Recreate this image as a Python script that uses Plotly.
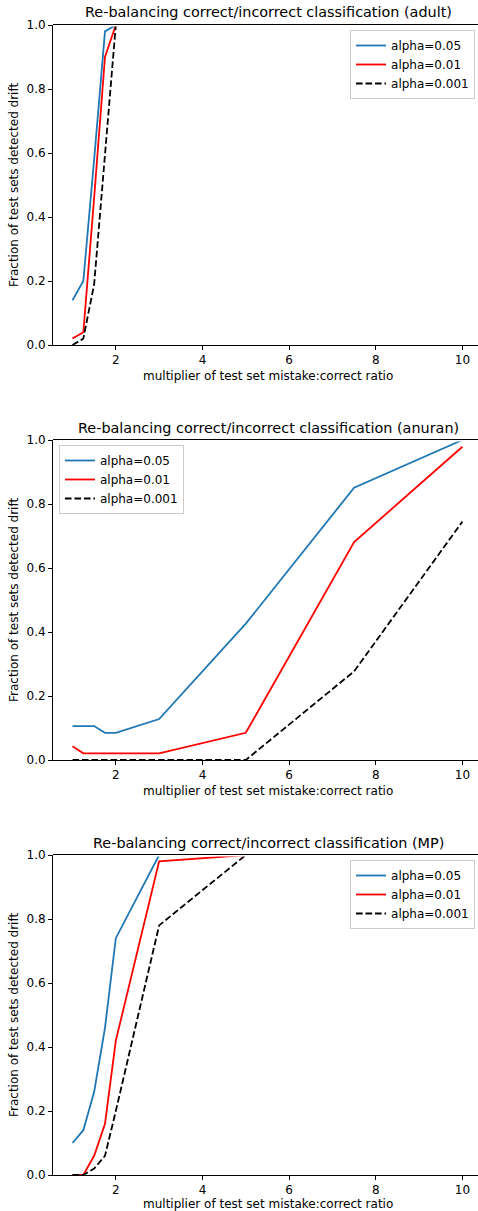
import plotly.graph_objects as go

# ---------------- data ----------------
multipliers = [1, 1.25, 1.5, 1.75, 2, 3, 5, 7.5, 10]

adult_a005 = [0.14, 0.20, 0.58, 0.98, 1.0, 1.0, 1.0, 1.0, 1.0]
adult_a001 = [0.02, 0.04, 0.46, 0.90, 1.0, 1.0, 1.0, 1.0, 1.0]
adult_a0001 = [0.0, 0.02, 0.19, 0.60, 1.0, 1.0, 1.0, 1.0, 1.0]

anuran_a005 = [0.106, 0.106, 0.106, 0.085, 0.085, 0.128, 0.426, 0.851, 1.0]
anuran_a001 = [0.043, 0.021, 0.021, 0.021, 0.021, 0.021, 0.085, 0.681, 0.979]
anuran_a0001 = [0.0, 0.0, 0.0, 0.0, 0.0, 0.0, 0.0, 0.277, 0.745]

mp_a005 = [0.10, 0.14, 0.26, 0.46, 0.74, 1.0, 1.0, 1.0, 1.0]
mp_a001 = [0.0, 0.0, 0.06, 0.16, 0.42, 0.98, 1.0, 1.0, 1.0]
mp_a0001 = [0.0, 0.0, 0.02, 0.06, 0.20, 0.78, 1.0, 1.0, 1.0]

datasets = ["adult", "anuran", "MP"]
series_names = ["alpha=0.05", "alpha=0.01", "alpha=0.001"]
panel_values = [
    [adult_a005, adult_a001, adult_a0001],
    [anuran_a005, anuran_a001, anuran_a0001],
    [mp_a005, mp_a001, mp_a0001],
]
x_ticks = [2, 4, 6, 8, 10]
y_ticks = [0.0, 0.2, 0.4, 0.6, 0.8, 1.0]

# ---------------- styling ----------------
W, H = 478, 1211
ML, MT, MB = 53, 25, 36
plot_h = H - MT - MB  # 1150
FONT = "DejaVu Sans"
FS = 12
TFS = 14.4
styles = [
    dict(color="#1f77b4", width=1.8),
    dict(color="#ff0000", width=1.8),
    dict(color="#000000", width=1.8, dash="6.6px,2.9px"),
]
# panel pixel tops/bottoms
panel_px = [(25, 345), (440, 760), (855, 1175)]
xlabel_off = [31, 31, 28.5]


def py(pix):
    return (H - MB - pix) / plot_h


fig = go.Figure()
layout = dict(
    width=W, height=H,
    margin=dict(l=ML, r=0, t=MT, b=MB, pad=0),
    paper_bgcolor="white", plot_bgcolor="white",
    font=dict(family=FONT, size=FS, color="black"),
    showlegend=True,
)
annotations = []
shapes = []
legend_pos = [
    dict(x=0.993, xanchor="right", y=py(30), yanchor="top"),
    dict(x=0.014, xanchor="left", y=py(445), yanchor="top"),
    dict(x=0.993, xanchor="right", y=py(860), yanchor="top"),
]
xc = (268 - ML) / (W - ML)

for i, (name, vals) in enumerate(zip(datasets, panel_values)):
    sfx = "" if i == 0 else str(i + 1)
    top, bot = panel_px[i]
    ph = bot - top
    lg = "legend" + sfx
    for s, v, st in zip(series_names, vals, styles):
        fig.add_trace(go.Scatter(
            x=multipliers, y=v, mode="lines", name=s, line=st,
            xaxis="x" + sfx, yaxis="y" + sfx, legend=lg,
        ))
    layout["xaxis" + sfx] = dict(
        domain=[0, 1], anchor="y" + sfx, range=[0.55, 10.36],
        tickvals=x_ticks, ticktext=[str(t) for t in x_ticks],
        ticks="outside", ticklen=4, tickwidth=1, tickcolor="black",
        showline=True, linecolor="black", linewidth=1,
        showgrid=False, zeroline=False,
        tickfont=dict(family=FONT, size=FS, color="black"),
    )
    layout["yaxis" + sfx] = dict(
        domain=[py(bot), py(top)], anchor="x" + sfx, range=[0, 1],
        tickvals=y_ticks, ticktext=["%.1f" % t for t in y_ticks],
        ticks="outside", ticklen=4, tickwidth=1, tickcolor="black",
        showline=True, linecolor="black", linewidth=1,
        showgrid=False, zeroline=False,
        tickfont=dict(family=FONT, size=FS, color="black"),
    )
    layout[lg] = dict(
        **legend_pos[i],
        bgcolor="rgba(255,255,255,0.8)", bordercolor="#cccccc", borderwidth=1,
        font=dict(family=FONT, size=FS, color="black"),
        itemwidth=30, tracegroupgap=0,
    )
    # title
    annotations.append(dict(
        text="Re-balancing correct/incorrect classification (%s)" % name,
        xref="paper", yref="paper", x=xc, y=py(top - 12.5),
        xanchor="center", yanchor="middle", showarrow=False,
        font=dict(family=FONT, size=TFS, color="black"),
    ))
    # x label
    annotations.append(dict(
        text="multiplier of test set mistake:correct ratio",
        xref="paper", yref="paper", x=xc, y=py(bot + xlabel_off[i]),
        xanchor="center", yanchor="middle", showarrow=False,
        font=dict(family=FONT, size=FS, color="black"),
    ))
    # y label
    annotations.append(dict(
        text="Fraction of test sets detected drift",
        xref="paper", yref="paper", x=0, xshift=-(ML - 14), y=py((top + bot) / 2),
        xanchor="center", yanchor="middle", showarrow=False, textangle=-90,
        font=dict(family=FONT, size=FS, color="black"),
    ))
    # top spine (drawn above the traces, hides lines sitting at 1.0)
    shapes.append(dict(
        type="rect", xref="x%s domain" % sfx, yref="y%s domain" % sfx,
        x0=0, x1=1, y0=1 - 1.4 / ph, y1=1,
        fillcolor="white", line=dict(width=0), layer="above",
    ))
    shapes.append(dict(
        type="line", xref="x%s domain" % sfx, yref="y%s domain" % sfx,
        x0=0, x1=1, y0=1 + 0.5 / ph, y1=1 + 0.5 / ph,
        line=dict(color="black", width=1), layer="above",
    ))

layout["annotations"] = annotations
layout["shapes"] = shapes
fig.update_layout(**layout)
fig.write_html(
    "out.html",
    config={"displayModeBar": False},
    post_script="document.body.style.margin='0';document.body.style.overflow='hidden';",
)
